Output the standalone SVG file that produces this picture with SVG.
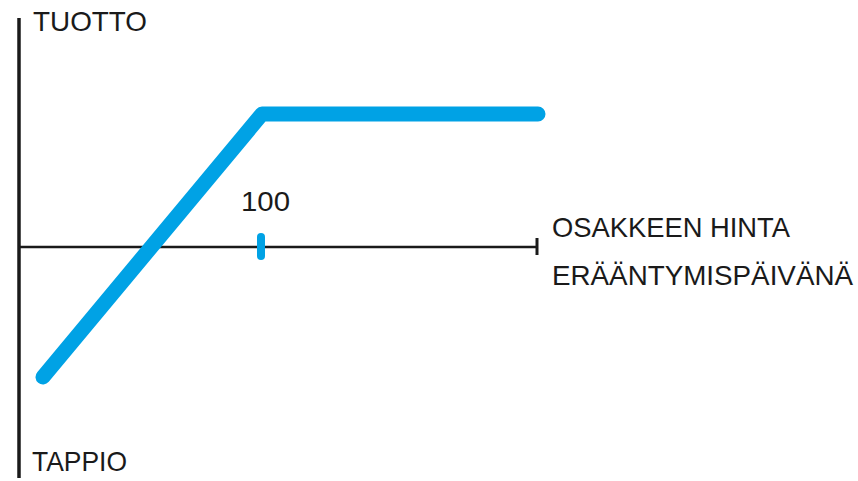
<svg xmlns="http://www.w3.org/2000/svg" width="858" height="481" viewBox="0 0 858 481">
<style>
.lbl{font-family:"Liberation Sans",Arial,sans-serif;font-size:28px;fill:#1a1a1a}
.axis{stroke:#1a1a1a;fill:none}
.pay{stroke:#00a2e5;fill:none;stroke-linecap:round;stroke-linejoin:round}
</style>
<rect width="858" height="481" fill="#ffffff"/>
<g id="axes">
<line class="axis" x1="19" y1="18" x2="19" y2="478" stroke-width="3.5"/>
<line class="axis" x1="19" y1="247" x2="537" y2="247" stroke-width="2.5"/>
<line class="axis" x1="537" y1="238" x2="537" y2="255" stroke-width="3"/>
</g>
<g id="payoff">
<polyline class="pay" points="43,377 262,114 538,114" stroke-width="15"/>
<line class="pay" x1="261" y1="237" x2="261" y2="256" stroke-width="8"/>
</g>
<g id="labels">
<text class="lbl" x="33" y="31" textLength="114" lengthAdjust="spacingAndGlyphs">TUOTTO</text>
<text class="lbl" x="32" y="471" textLength="95" lengthAdjust="spacingAndGlyphs">TAPPIO</text>
<text class="lbl" x="241" y="211" font-size="25" textLength="49" lengthAdjust="spacingAndGlyphs">100</text>
<text class="lbl" x="552" y="237" textLength="238" lengthAdjust="spacingAndGlyphs">OSAKKEEN HINTA</text>
<text class="lbl" x="552" y="285" textLength="301" lengthAdjust="spacingAndGlyphs">ERÄÄNTYMISPÄIVÄNÄ</text>
</g>
</svg>
